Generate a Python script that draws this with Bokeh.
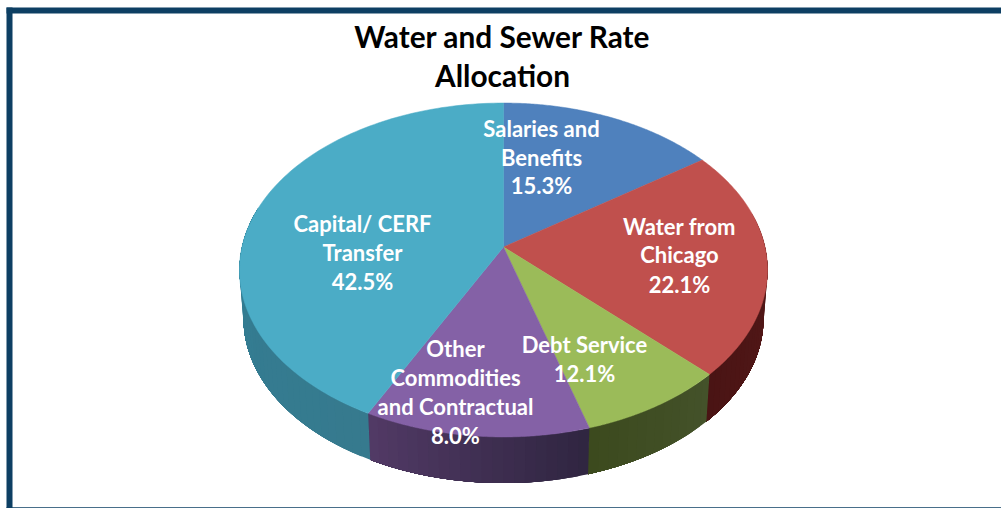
import numpy as np
from bokeh.plotting import figure
from bokeh.models import Range1d
from bokeh.core.properties import value
from bokeh.embed import file_html
from bokeh.resources import INLINE

# Slice sizes as drawn in the picture, clockwise from 12 o'clock
slice_names = ["Salaries and Benefits", "Water from Chicago", "Green slice", "Purple slice", "Capital/ CERF Transfer"]
slice_values = [15.3, 22.1, 8.0, 12.1, 42.5]
top_colors = ["#4f81bd", "#c0504d", "#9bbb59", "#8461a6", "#4bacc6"]
wall_start = ["#4f81bd", "#5c1c1c", "#44522a", "#2f2540", "#367a8e"]
wall_end = ["#4f81bd", "#4a1414", "#3c4a1e", "#523a66", "#2f8098"]

# Labels exactly as printed on the picture
label_lines = [
    ["Salaries and", "Benefits", "15.3%"],
    ["Water from", "Chicago", "22.1%"],
    ["Debt Service", "12.1%"],
    ["Other", "Commodities", "and Contractual", "8.0%"],
    ["Capital/ CERF", "Transfer", "42.5%"],
]
label_x = [541, 679, 584, 455, 362]
label_y = [[128, 157, 185], [226, 254, 284], [344, 373], [348, 377, 406, 435], [223, 252, 281]]
title_lines = ["Water and Sewer Rate", "Allocation"]
title_y = [35.5, 74.5]

# Projection of the tilted disc (apex, radii, perspective, wall depth)
AX, AY, A, B, K, S, D = 503.0, 246.5, 261.5, 163.8, 0.1377, 0.985, 49.0
FRAME = "#0d3f63"


def top(t):
    u, v = np.sin(t), np.cos(t)
    w = 1 + K * v
    return AX + A * u / w, AY - B * v / w


def bottom(t):
    x, y = top(t)
    return AX + S * (x - AX), AY + S * (y - AY) + D


def mix(c1, c2, f):
    a = [int(c1[i:i + 2], 16) for i in (1, 3, 5)]
    b = [int(c2[i:i + 2], 16) for i in (1, 3, 5)]
    return "#%02x%02x%02x" % tuple(int(round(p + (q - p) * f)) for p, q in zip(a, b))


p = figure(width=1001, height=508, x_range=Range1d(0, 1001), y_range=Range1d(508, 0),
           output_backend="svg", toolbar_location=None, min_border=0)
p.axis.visible = False
p.grid.visible = False
p.outline_line_color = None
p.background_fill_color = "#ffffff"

# Frame of the slide
p.quad(left=[6, 6, 6], right=[1001, 12, 1001], top=[7, 7, 506.8], bottom=[13, 508, 508],
       fill_color=FRAME, line_color=None)

edges = np.cumsum([0] + slice_values) / sum(slice_values) * 2 * np.pi

# Walls, front part only: each band is painted up to the end of its slice so no seams show
for i in range(5):
    a0, a1 = edges[i], edges[i + 1]
    n = max(2, int((a1 - a0) / np.radians(2.0)))
    ts = np.linspace(a0, a1, n + 1)
    for j in range(n):
        t0 = ts[j]
        if np.cos(t0) > 0.2 and np.cos(ts[j + 1]) > 0.2:
            continue
        tt = np.linspace(t0, a1, 40)
        tt = tt[np.cos(tt) <= 0.25]
        if len(tt) < 2:
            continue
        xa, ya = top(tt)
        xb, yb = bottom(tt)
        c = mix(wall_start[i], wall_end[i], (j + 0.5) / n)
        p.patch(np.r_[xa, xb[::-1]], np.r_[ya, yb[::-1]], fill_color=c, line_color=None)

# Top face
for i in range(5):
    ts = np.linspace(edges[i], edges[i + 1], 120)
    x, y = top(ts)
    p.patch(np.r_[AX, x], np.r_[AY, y], fill_color=top_colors[i], line_color=top_colors[i], line_width=0.5)

# Labels
for lines, lx, lys in zip(label_lines, label_x, label_y):
    p.text(x=[lx] * len(lines), y=lys, text=lines, text_align="center", text_baseline="middle",
           text_color="#ffffff", text_font=value("Lato"), text_font_style="bold", text_font_size="22px")

p.text(x=[502, 502], y=title_y, text=title_lines, text_align="center", text_baseline="middle",
       text_color="#000000", text_font=value("Lato"), text_font_style="bold", text_font_size="29.8px")

open("out.html", "w").write(file_html(p, INLINE))
